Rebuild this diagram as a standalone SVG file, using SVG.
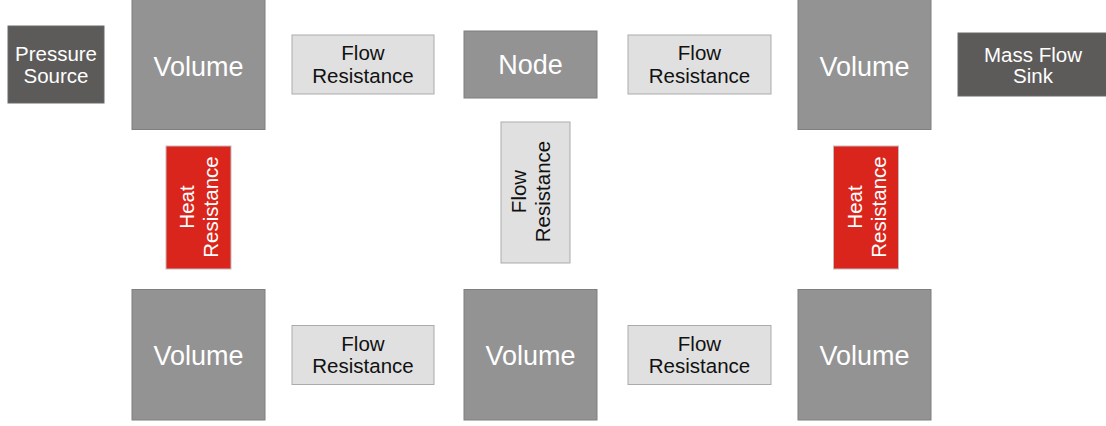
<svg xmlns="http://www.w3.org/2000/svg" width="1106" height="426" viewBox="0 0 1106 426">
  <style>
    text { font-family: "Liberation Sans", Arial, sans-serif; text-anchor: middle; }
    .src { fill: #5d5b5a; stroke: #6a6a6a; stroke-width: 1; }
    .vol { fill: #939393; stroke: #7f7f7f; stroke-width: 1; }
    .res { fill: #e0e0e0; stroke: #ababab; stroke-width: 1; }
    .heat { fill: #da251d; stroke: #c4bcbc; stroke-width: 1; }
    .big { font-size: 27px; fill: #ffffff; }
    .lbl { font-size: 20.5px; fill: #ffffff; }
    .dark { font-size: 20.5px; fill: #111111; }
  </style>

  <!-- boundary conditions -->
  <g id="pressure-source">
    <rect class="src" x="8" y="26" width="96" height="77"/>
    <text class="lbl" x="56" y="60.5">Pressure</text>
    <text class="lbl" x="56" y="82.5">Source</text>
  </g>
  <g id="mass-flow-sink">
    <rect class="src" x="958" y="33" width="150" height="63"/>
    <text class="lbl" x="1033" y="61.5">Mass Flow</text>
    <text class="lbl" x="1033" y="83">Sink</text>
  </g>

  <!-- upper row -->
  <g id="volume-top-left">
    <rect class="vol" x="132" y="-1" width="133" height="130.5"/>
    <text class="big" x="198.5" y="75.5">Volume</text>
  </g>
  <g id="flow-res-top-left">
    <rect class="res" x="292" y="35" width="142" height="59"/>
    <text class="dark" x="363" y="60">Flow</text>
    <text class="dark" x="363" y="83">Resistance</text>
  </g>
  <g id="node">
    <rect class="vol" x="464" y="31" width="133" height="67"/>
    <text class="big" x="530.5" y="74">Node</text>
  </g>
  <g id="flow-res-top-right">
    <rect class="res" x="628" y="35" width="143" height="59"/>
    <text class="dark" x="699.5" y="60">Flow</text>
    <text class="dark" x="699.5" y="83">Resistance</text>
  </g>
  <g id="volume-top-right">
    <rect class="vol" x="798" y="-1" width="133" height="130.5"/>
    <text class="big" x="864.5" y="75.5">Volume</text>
  </g>

  <!-- vertical elements -->
  <g id="heat-res-left">
    <rect class="heat" x="166" y="146" width="65" height="123"/>
    <g transform="translate(198.5,207) rotate(-90)">
      <text class="lbl" x="0" y="-5">Heat</text>
      <text class="lbl" x="0" y="19.5">Resistance</text>
    </g>
  </g>
  <g id="flow-res-vertical">
    <rect class="res" x="501" y="122" width="69" height="141"/>
    <g transform="translate(535.5,191.5) rotate(-90)">
      <text class="dark" x="0" y="-9.5">Flow</text>
      <text class="dark" x="0" y="14.5">Resistance</text>
    </g>
  </g>
  <g id="heat-res-right">
    <rect class="heat" x="833.5" y="146" width="65" height="123"/>
    <g transform="translate(866,207) rotate(-90)">
      <text class="lbl" x="0" y="-4">Heat</text>
      <text class="lbl" x="0" y="20">Resistance</text>
    </g>
  </g>

  <!-- lower row -->
  <g id="volume-bottom-left">
    <rect class="vol" x="132" y="289.5" width="133" height="130.5"/>
    <text class="big" x="198.5" y="364.5">Volume</text>
  </g>
  <g id="flow-res-bottom-left">
    <rect class="res" x="292" y="325.5" width="142" height="59"/>
    <text class="dark" x="363" y="350.5">Flow</text>
    <text class="dark" x="363" y="373">Resistance</text>
  </g>
  <g id="volume-bottom-middle">
    <rect class="vol" x="464" y="289.5" width="133" height="130.5"/>
    <text class="big" x="530.5" y="364.5">Volume</text>
  </g>
  <g id="flow-res-bottom-right">
    <rect class="res" x="628" y="325.5" width="143" height="59"/>
    <text class="dark" x="699.5" y="350.5">Flow</text>
    <text class="dark" x="699.5" y="373">Resistance</text>
  </g>
  <g id="volume-bottom-right">
    <rect class="vol" x="798" y="289.5" width="133" height="130.5"/>
    <text class="big" x="864.5" y="364.5">Volume</text>
  </g>

  <!-- no connectors are drawn between the elements -->
  <g id="connectors"/>
</svg>
